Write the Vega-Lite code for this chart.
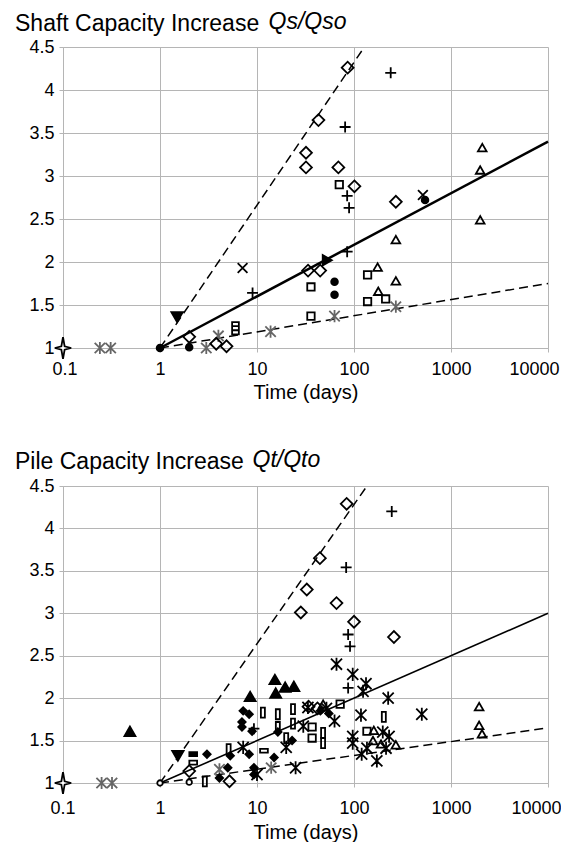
{
  "$schema": "https://vega.github.io/schema/vega-lite/v6.json",
  "padding": {"left": 15, "top": 10, "right": 0, "bottom": 0},
  "spacing": 46,
  "config": {
    "font": "Liberation Sans",
    "view": {"stroke": null},
    "axis": {
      "gridColor": "#b5b5b5", "domainColor": "#b5b5b5", "tickColor": "#b5b5b5",
      "gridWidth": 1, "domainWidth": 1, "tickSize": 4,
      "labelFontSize": 18, "labelColor": "#000", "labelFont": "Liberation Sans",
      "titleFont": "Liberation Sans", "titleFontWeight": "normal", "titleColor": "#000", "titleFontSize": 20
    },
    "title": {"fontSize": 23, "fontWeight": "normal", "font": "Liberation Sans", "color": "#000", "anchor": "start"}
  },
  "datasets": {
    "top_lines": [
      {"ln": "upper", "t": 1, "q": 1}, {"ln": "upper", "t": 128, "q": 4.5},
      {"ln": "mid", "t": 1, "q": 1}, {"ln": "mid", "t": 10000, "q": 3.4},
      {"ln": "lower", "t": 1, "q": 1}, {"ln": "lower", "t": 10000, "q": 1.75}
    ],
    "bottom_lines": [
      {"ln": "upper", "t": 1, "q": 1}, {"ln": "upper", "t": 136, "q": 4.5},
      {"ln": "mid", "t": 1, "q": 1}, {"ln": "mid", "t": 10000, "q": 3.0},
      {"ln": "lower", "t": 1, "q": 1}, {"ln": "lower", "t": 10000, "q": 1.65}
    ],
    "top_points": [
      {"m": "star4", "t": 0.1, "q": 1},
      {"m": "ast_gray", "t": 0.24, "q": 1}, {"m": "ast_gray", "t": 0.31, "q": 1}, {"m": "ast_gray", "t": 3.0, "q": 1},
      {"m": "ast_gray", "t": 4.0, "q": 1.14}, {"m": "ast_gray", "t": 13.8, "q": 1.19}, {"m": "ast_gray", "t": 63, "q": 1.37},
      {"m": "ast_gray", "t": 270, "q": 1.48},
      {"m": "dot", "t": 1, "q": 1}, {"m": "dot", "t": 2.0, "q": 1.01}, {"m": "dot", "t": 63, "q": 1.77},
      {"m": "dot", "t": 63, "q": 1.62}, {"m": "dot", "t": 540, "q": 2.72},
      {"m": "diamond", "t": 2.0, "q": 1.13}, {"m": "diamond", "t": 3.8, "q": 1.05}, {"m": "diamond", "t": 4.85, "q": 1.02},
      {"m": "diamond", "t": 33.6, "q": 1.9}, {"m": "diamond", "t": 44.8, "q": 1.9}, {"m": "diamond", "t": 86, "q": 4.26},
      {"m": "diamond", "t": 43, "q": 3.65}, {"m": "diamond", "t": 32, "q": 3.27}, {"m": "diamond", "t": 32, "q": 3.1},
      {"m": "diamond", "t": 69, "q": 3.1}, {"m": "diamond", "t": 101, "q": 2.88}, {"m": "diamond", "t": 270, "q": 2.7},
      {"m": "plus", "t": 239, "q": 4.2}, {"m": "plus", "t": 81, "q": 3.57}, {"m": "plus", "t": 85, "q": 2.77},
      {"m": "plus", "t": 89, "q": 2.63}, {"m": "plus", "t": 9.0, "q": 1.64}, {"m": "plus", "t": 85, "q": 2.12},
      {"m": "x", "t": 7.1, "q": 1.93}, {"m": "x", "t": 513, "q": 2.78},
      {"m": "tri_down_f", "t": 1.5, "q": 1.36},
      {"m": "tri_right_f", "t": 53, "q": 2.02},
      {"m": "square", "t": 70.5, "q": 2.9}, {"m": "square", "t": 36, "q": 1.71}, {"m": "square", "t": 36, "q": 1.37},
      {"m": "square", "t": 138, "q": 1.85}, {"m": "square", "t": 138, "q": 1.54}, {"m": "square", "t": 212, "q": 1.57},
      {"m": "sq_stack", "t": 6.0, "q": 1.23},
      {"m": "tri_up", "t": 175, "q": 1.94}, {"m": "tri_up", "t": 270, "q": 1.78}, {"m": "tri_up", "t": 178, "q": 1.66},
      {"m": "tri_up", "t": 270, "q": 2.26}, {"m": "tri_up", "t": 2100, "q": 3.33}, {"m": "tri_up", "t": 2000, "q": 3.07},
      {"m": "tri_up", "t": 2000, "q": 2.49}
    ],
    "bottom_points": [
      {"m": "star4", "t": 0.1, "q": 1},
      {"m": "ast_gray", "t": 0.25, "q": 1}, {"m": "ast_gray", "t": 0.32, "q": 1}, {"m": "ast_gray", "t": 4.1, "q": 1.16},
      {"m": "ast_gray", "t": 14, "q": 1.18},
      {"m": "tri_up_f", "t": 0.49, "q": 1.61}, {"m": "tri_up_f", "t": 8.5, "q": 2.02}, {"m": "tri_up_f", "t": 15.3, "q": 2.22},
      {"m": "tri_up_f", "t": 15.6, "q": 2.06}, {"m": "tri_up_f", "t": 19.5, "q": 2.13}, {"m": "tri_up_f", "t": 24, "q": 2.14},
      {"m": "tri_down_f", "t": 1.53, "q": 1.32},
      {"m": "circ_o", "t": 1, "q": 1}, {"m": "circ_o", "t": 2.0, "q": 1.01},
      {"m": "diamond", "t": 2.0, "q": 1.14}, {"m": "diamond", "t": 5.2, "q": 1.02}, {"m": "diamond", "t": 84, "q": 4.29},
      {"m": "diamond", "t": 44.5, "q": 3.65}, {"m": "diamond", "t": 32.6, "q": 3.28}, {"m": "diamond", "t": 28.3, "q": 3.01},
      {"m": "diamond", "t": 66, "q": 3.12}, {"m": "diamond", "t": 100, "q": 2.9}, {"m": "diamond", "t": 258, "q": 2.72},
      {"m": "diamond", "t": 34, "q": 1.9}, {"m": "diamond", "t": 42, "q": 1.88},
      {"m": "plus", "t": 245, "q": 4.2}, {"m": "plus", "t": 83, "q": 3.54}, {"m": "plus", "t": 87, "q": 2.75},
      {"m": "plus", "t": 91, "q": 2.61}, {"m": "plus", "t": 87, "q": 2.12}, {"m": "plus", "t": 9.3, "q": 1.64},
      {"m": "rect_h_f", "t": 2.2, "q": 1.34},
      {"m": "rect_h", "t": 2.2, "q": 1.24}, {"m": "rect_h", "t": 11.8, "q": 1.38},
      {"m": "rect_v", "t": 2.9, "q": 1.02}, {"m": "rect_v", "t": 5.1, "q": 1.4}, {"m": "rect_v", "t": 16.4, "q": 1.66},
      {"m": "rect_v", "t": 23.5, "q": 1.87}, {"m": "rect_v", "t": 23.5, "q": 1.7}, {"m": "rect_v", "t": 20, "q": 1.53},
      {"m": "rect_v", "t": 48, "q": 1.59}, {"m": "rect_v", "t": 48, "q": 1.47}, {"m": "rect_v", "t": 11.5, "q": 1.83},
      {"m": "rect_v", "t": 203, "q": 1.78}, {"m": "rect_v", "t": 16.4, "q": 1.81},
      {"m": "dia_f", "t": 3.05, "q": 1.34}, {"m": "dia_f", "t": 7.2, "q": 1.85}, {"m": "dia_f", "t": 8.3, "q": 1.81},
      {"m": "dia_f", "t": 7.0, "q": 1.72}, {"m": "dia_f", "t": 7.0, "q": 1.66}, {"m": "dia_f", "t": 8.9, "q": 1.61},
      {"m": "dia_f", "t": 5.3, "q": 1.32}, {"m": "dia_f", "t": 8.3, "q": 1.34}, {"m": "dia_f", "t": 5.0, "q": 1.18},
      {"m": "dia_f", "t": 9.3, "q": 1.18}, {"m": "dia_f", "t": 9.3, "q": 1.1}, {"m": "dia_f", "t": 4.1, "q": 1.06},
      {"m": "dia_f", "t": 15, "q": 1.3}, {"m": "dia_f", "t": 16.4, "q": 1.6}, {"m": "dia_f", "t": 23, "q": 1.5},
      {"m": "dia_f", "t": 45, "q": 1.85}, {"m": "dia_f", "t": 55, "q": 1.82},
      {"m": "ast", "t": 7.2, "q": 1.42}, {"m": "ast", "t": 20, "q": 1.42}, {"m": "ast", "t": 25, "q": 1.18},
      {"m": "ast", "t": 10, "q": 1.1}, {"m": "ast", "t": 33.5, "q": 1.89}, {"m": "ast", "t": 30, "q": 1.67},
      {"m": "ast", "t": 63, "q": 1.73}, {"m": "ast", "t": 97, "q": 2.28}, {"m": "ast", "t": 66, "q": 2.4},
      {"m": "ast", "t": 133, "q": 2.17}, {"m": "ast", "t": 124, "q": 2.08}, {"m": "ast", "t": 225, "q": 2.0},
      {"m": "ast", "t": 118, "q": 1.8}, {"m": "ast", "t": 500, "q": 1.81}, {"m": "ast", "t": 97, "q": 1.55},
      {"m": "ast", "t": 97, "q": 1.47}, {"m": "ast", "t": 120, "q": 1.34}, {"m": "ast", "t": 136, "q": 1.41},
      {"m": "ast", "t": 172, "q": 1.26}, {"m": "ast", "t": 198, "q": 1.6}, {"m": "ast", "t": 214, "q": 1.41},
      {"m": "ast", "t": 230, "q": 1.55}, {"m": "ast", "t": 52, "q": 1.88},
      {"m": "square", "t": 37, "q": 1.66}, {"m": "square", "t": 37, "q": 1.53}, {"m": "square", "t": 72, "q": 1.93},
      {"m": "square", "t": 136, "q": 1.61},
      {"m": "tri_up", "t": 48, "q": 1.93}, {"m": "tri_up", "t": 160, "q": 1.62}, {"m": "tri_up", "t": 157, "q": 1.5},
      {"m": "tri_up", "t": 190, "q": 1.46}, {"m": "tri_up", "t": 270, "q": 1.45}, {"m": "tri_up", "t": 1950, "q": 1.9},
      {"m": "tri_up", "t": 1950, "q": 1.68}, {"m": "tri_up", "t": 2090, "q": 1.58}
    ]
  },
  "vconcat": [
    {
      "width": 485, "height": 301,
      "title": {"text": "Shaft Capacity Increase", "frame": "group", "dx": -48, "baseline": "alphabetic", "offset": -44},
      "encoding": {
        "x": {"field": "t", "type": "quantitative",
          "scale": {"type": "log", "domain": [0.1, 10000], "nice": false},
          "axis": {"values": [0.1, 1, 10, 100, 1000, 10000], "labelExpr": "''+datum.value", "title": "Time (days)",
            "labelPadding": 8, "titlePadding": 4, "labelFlush": true, "labelFlushOffset": 11}},
        "y": {"field": "q", "type": "quantitative",
          "scale": {"domain": [1, 4.5], "nice": false, "zero": false},
          "axis": {"values": [1, 1.5, 2, 2.5, 3, 3.5, 4, 4.5], "labelExpr": "''+datum.value", "labelPadding": 5,
            "title": "Qs/Qso", "titleFontStyle": "italic", "titleFontSize": 23, "titleAngle": 0, "titleAlign": "left",
            "titleBaseline": "alphabetic", "titleX": 205, "titleY": -19}}
      },
      "layer": [
        {"data": {"name": "top_lines"}, "transform": [{"filter": "datum.ln == 'mid'"}],
          "mark": {"type": "line", "color": "#000", "strokeWidth": 2.5}, "encoding": {"detail": {"field": "ln"}}},
        {"data": {"name": "top_lines"}, "transform": [{"filter": "datum.ln != 'mid'"}],
          "mark": {"type": "line", "color": "#000", "strokeWidth": 1.5, "strokeDash": [9, 5]}, "encoding": {"detail": {"field": "ln"}}},
        {"data": {"name": "top_points"},
          "mark": {"type": "point", "strokeWidth": 1.8, "opacity": 1},
          "encoding": {
            "shape": {"field": "m", "type": "nominal", "legend": null, "scale": {
              "domain": ["star4","ast_gray","ast","dot","circ_o","diamond","dia_f","plus","x","tri_down_f","tri_right_f","tri_up_f","tri_up","square","sq_stack","rect_h_f","rect_h","rect_v"],
              "range": ["M0,-1L0.15,-0.15L0.75,0L0.15,0.15L0,1L-0.15,0.15L-0.75,0L-0.15,-0.15Z","M-0.85,-0.85L0.85,0.85M-0.85,0.85L0.85,-0.85M0,-1V1","M-0.85,-0.85L0.85,0.85M-0.85,0.85L0.85,-0.85M0,-1V1","circle","circle","diamond","diamond","M-1,0H1M0,-1V1","M-1,-1L1,1M-1,1L1,-1","triangle-down","triangle-right","triangle-up","triangle-up","square","M-0.55,-1H0.55V1H-0.55ZM-0.55,-0.33H0.55M-0.55,0.33H0.55","M-1,-0.5H1V0.5H-1Z","M-1,-0.5H1V0.5H-1Z","M-0.4,-1H0.4V1H-0.4Z"]}},
            "fill": {"field": "m", "type": "nominal", "legend": null, "scale": {
              "domain": ["star4","ast_gray","ast","dot","circ_o","diamond","dia_f","plus","x","tri_down_f","tri_right_f","tri_up_f","tri_up","square","sq_stack","rect_h_f","rect_h","rect_v"],
              "range": ["white","transparent","transparent","black","white","transparent","black","transparent","transparent","black","black","black","transparent","transparent","transparent","black","transparent","transparent"]}},
            "stroke": {"field": "m", "type": "nominal", "legend": null, "scale": {
              "domain": ["star4","ast_gray","ast","dot","circ_o","diamond","dia_f","plus","x","tri_down_f","tri_right_f","tri_up_f","tri_up","square","sq_stack","rect_h_f","rect_h","rect_v"],
              "range": ["#000","#666","#000","#000","#000","#000","#000","#000","#000","#000","#000","#000","#000","#000","#000","#000","#000","#000"]}},
            "size": {"field": "m", "type": "nominal", "legend": null, "scale": {"type": "ordinal",
              "domain": ["star4","ast_gray","ast","dot","circ_o","diamond","dia_f","plus","x","tri_down_f","tri_right_f","tri_up_f","tri_up","square","sq_stack","rect_h_f","rect_h","rect_v"],
              "range": [480,150,170,45,30,140,55,120,95,130,110,120,75,55,150,60,60,100]}}
          }}
      ]
    },
    {
      "width": 485, "height": 297,
      "title": {"text": "Pile Capacity Increase", "frame": "group", "dx": -48, "baseline": "alphabetic", "offset": -44},
      "encoding": {
        "x": {"field": "t", "type": "quantitative",
          "scale": {"type": "log", "domain": [0.1, 10000], "nice": false},
          "axis": {"values": [0.1, 1, 10, 100, 1000, 10000], "labelExpr": "''+datum.value", "title": "Time (days)",
            "labelPadding": 12, "titlePadding": 5, "labelFlush": true, "labelFlushOffset": 13}},
        "y": {"field": "q", "type": "quantitative",
          "scale": {"domain": [1, 4.5], "nice": false, "zero": false},
          "axis": {"values": [1, 1.5, 2, 2.5, 3, 3.5, 4, 4.5], "labelExpr": "''+datum.value", "labelPadding": 5,
            "title": "Qt/Qto", "titleFontStyle": "italic", "titleFontSize": 23, "titleAngle": 0, "titleAlign": "left",
            "titleBaseline": "alphabetic", "titleX": 189, "titleY": -20}}
      },
      "layer": [
        {"data": {"name": "bottom_lines"}, "transform": [{"filter": "datum.ln == 'mid'"}],
          "mark": {"type": "line", "color": "#000", "strokeWidth": 1.6}, "encoding": {"detail": {"field": "ln"}}},
        {"data": {"name": "bottom_lines"}, "transform": [{"filter": "datum.ln != 'mid'"}],
          "mark": {"type": "line", "color": "#000", "strokeWidth": 1.5, "strokeDash": [9, 5]}, "encoding": {"detail": {"field": "ln"}}},
        {"data": {"name": "bottom_points"},
          "mark": {"type": "point", "strokeWidth": 1.8, "opacity": 1},
          "encoding": {
            "shape": {"field": "m", "type": "nominal", "legend": null, "scale": {
              "domain": ["star4","ast_gray","ast","dot","circ_o","diamond","dia_f","plus","x","tri_down_f","tri_right_f","tri_up_f","tri_up","square","sq_stack","rect_h_f","rect_h","rect_v"],
              "range": ["M0,-1L0.15,-0.15L0.75,0L0.15,0.15L0,1L-0.15,0.15L-0.75,0L-0.15,-0.15Z","M-0.85,-0.85L0.85,0.85M-0.85,0.85L0.85,-0.85M0,-1V1","M-0.85,-0.85L0.85,0.85M-0.85,0.85L0.85,-0.85M0,-1V1","circle","circle","diamond","diamond","M-1,0H1M0,-1V1","M-1,-1L1,1M-1,1L1,-1","triangle-down","triangle-right","triangle-up","triangle-up","square","M-0.55,-1H0.55V1H-0.55ZM-0.55,-0.33H0.55M-0.55,0.33H0.55","M-1,-0.5H1V0.5H-1Z","M-1,-0.5H1V0.5H-1Z","M-0.4,-1H0.4V1H-0.4Z"]}},
            "fill": {"field": "m", "type": "nominal", "legend": null, "scale": {
              "domain": ["star4","ast_gray","ast","dot","circ_o","diamond","dia_f","plus","x","tri_down_f","tri_right_f","tri_up_f","tri_up","square","sq_stack","rect_h_f","rect_h","rect_v"],
              "range": ["white","transparent","transparent","black","white","transparent","black","transparent","transparent","black","black","black","transparent","transparent","transparent","black","transparent","transparent"]}},
            "stroke": {"field": "m", "type": "nominal", "legend": null, "scale": {
              "domain": ["star4","ast_gray","ast","dot","circ_o","diamond","dia_f","plus","x","tri_down_f","tri_right_f","tri_up_f","tri_up","square","sq_stack","rect_h_f","rect_h","rect_v"],
              "range": ["#000","#666","#000","#000","#000","#000","#000","#000","#000","#000","#000","#000","#000","#000","#000","#000","#000","#000"]}},
            "size": {"field": "m", "type": "nominal", "legend": null, "scale": {"type": "ordinal",
              "domain": ["star4","ast_gray","ast","dot","circ_o","diamond","dia_f","plus","x","tri_down_f","tri_right_f","tri_up_f","tri_up","square","sq_stack","rect_h_f","rect_h","rect_v"],
              "range": [480,150,170,45,30,140,55,120,95,130,110,120,75,55,150,60,60,100]}}
          }}
      ]
    }
  ]
}
